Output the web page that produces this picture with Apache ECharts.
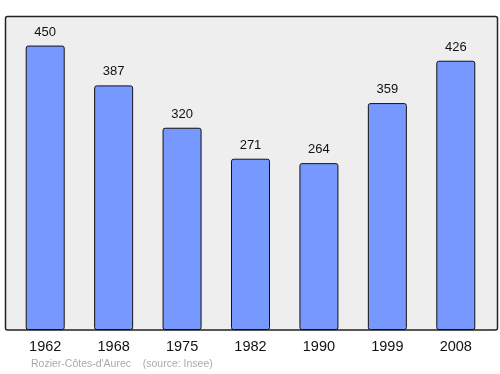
<!DOCTYPE html>
<html><head><meta charset="utf-8">
<script src="https://cdn.jsdelivr.net/npm/echarts@6/dist/echarts.min.js"></script>
<style>html,body{margin:0;padding:0;background:#fff}#c{width:500px;height:374px}</style>
</head><body><div id="c"></div>
<script>
var years = ['1962','1968','1975','1982','1990','1999','2008'];
var population = [450, 387, 320, 271, 264, 359, 426];
var footer = "Rozier-Côtes-d'Aurec    (source: Insee)";

var chart = echarts.init(document.getElementById('c'), null, {renderer:'canvas'});
chart.setOption({
  animation: false,
  graphic: [
    {type:'rect', z:-10, shape:{x:5.5, y:16.5, width:492, height:313.5, r:2},
     style:{fill:'#eeeeee', stroke:'#222', lineWidth:1.5}},
    {type:'text', left:31, top:359, style:{text:footer, fill:'#aaaaaa', font:'10.5px "Liberation Sans", Arial, sans-serif'}}
  ],
  grid: {left:11, right:10, top:16.5, bottom:44, containLabel:false},
  xAxis: {type:'category', data:years, axisLine:{show:false}, axisTick:{show:false},
    axisLabel:{color:'#111', fontSize:14.5, margin:9, fontFamily:'"Liberation Sans", Arial, sans-serif'}},
  yAxis: {type:'value', min:0, max:496, show:false, splitLine:{show:false}},
  series: [{type:'bar', data:population, barWidth:39,
    itemStyle:{color:'#7799ff', borderColor:'#111', borderWidth:1, borderRadius:2},
    label:{show:true, position:'top', distance:7, color:'#111', fontSize:13,
      fontFamily:'"Liberation Sans", Arial, sans-serif'}}]
});
</script></body></html>
